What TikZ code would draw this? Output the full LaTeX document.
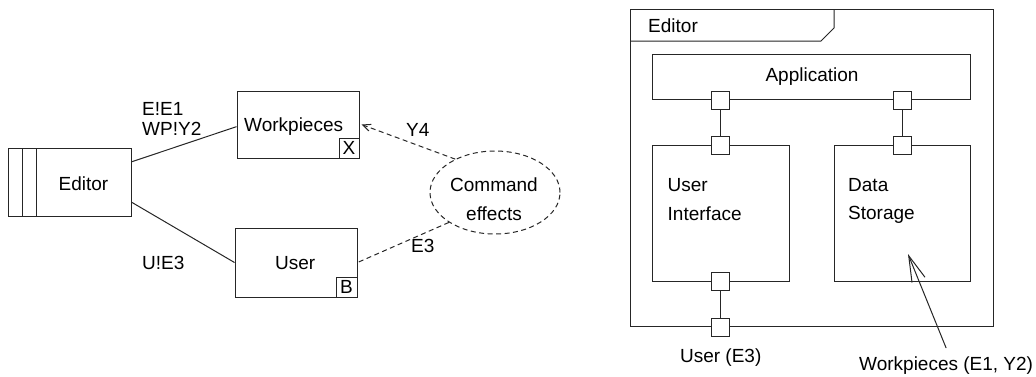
\documentclass[tikz,border=0pt]{standalone}
\usepackage{fontspec}
\setmainfont{Liberation Sans}
\usetikzlibrary{arrows.meta,shapes.geometric}

\tikzset{
  ln/.style={draw=black!85, line width=1pt},
  box/.style={ln, rectangle, inner sep=0pt, fill=white},
  port/.style={box, minimum width=18pt, minimum height=18pt},
  txt/.style={inner sep=0pt},
  dsh/.style={ln, dash pattern=on 5pt off 3.5pt},
}

\begin{document}
\begin{tikzpicture}[x=1pt, y=-1pt]
\useasboundingbox (0,0) rectangle (1036,376);
\fontsize{19}{20}\selectfont

% ---------- problem diagram ----------
\node[box, minimum width=123pt, minimum height=68pt] (ed) at (69.5,182) {};
\draw[ln] (22,148) -- (22,216);
\draw[ln] (36,148) -- (36,216);
\node[txt, anchor=base] (edt) at (83.5,190.5) {Editor};

\node[box, minimum width=122pt, minimum height=67pt] (wp) at (298,124.5) {};
\node[box, minimum width=20pt, minimum height=20pt, anchor=south east] (wpx) at (wp.south east) {X};
\node[txt, anchor=base west] (wpt) at (244,131.5) {Workpieces};

\node[box, minimum width=122pt, minimum height=69pt] (us) at (296,262.5) {};
\node[box, minimum width=21pt, minimum height=20pt, anchor=south east] (usb) at (us.south east) {B};
\node[txt, anchor=base west] (ust) at (275,269) {User};

\node[ln, dash pattern=on 5pt off 3.5pt, ellipse, inner sep=0pt,
      minimum width=130pt, minimum height=83pt] (ce) at (495,192.5) {};
\node[txt, anchor=base] (ce1) at (494,191.7) {Command};
\node[txt, anchor=base] (ce2) at (494,220) {effects};

\draw[ln] (ed.18.8) -- (wp.182.3);
\draw[ln] (ed.-18.8) -- (us.west);
\draw[dsh, -{Straight Barb[length=8pt,width=7pt]}] (ce.140) -- ([xshift=2pt]wp.east);
\draw[dsh] (ce.213) -- (us.east);

\node[txt, anchor=base west] (l1) at (142,115) {E!E1};
\node[txt, anchor=base west] (l2) at (142,135) {WP!Y2};
\node[txt, anchor=base west] (l3) at (142,269.3) {U!E3};
\node[txt, anchor=base west] (l4) at (406,136) {Y4};
\node[txt, anchor=base west] (l5) at (411,252.5) {E3};

% ---------- composite structure of the editor ----------
\node[box, minimum width=363pt, minimum height=317pt] (fr) at (811.5,167.5) {};
\draw[ln] (630,41) -- (821,41) -- (834,28) -- (834,9);
\node[txt, anchor=base west] (frt) at (648,32.3) {Editor};

\node[box, minimum width=318pt, minimum height=45pt] (app) at (811,76.5) {};
\node[txt, anchor=base] (appt) at (812,81.7) {Application};

\node[box, minimum width=137pt, minimum height=136pt] (ui) at (720.5,213) {};
\node[txt, anchor=base west] (ui1) at (667.5,191.7) {User};
\node[txt, anchor=base west] (ui2) at (667.5,220) {Interface};

\node[box, minimum width=136pt, minimum height=136pt] (ds) at (902,213) {};
\node[txt, anchor=base west] (ds1) at (848,191.7) {Data};
\node[txt, anchor=base west] (ds2) at (848,219.5) {Storage};

\node[port] (pa1) at (720.5,100) {};
\node[port] (pa2) at (902.5,100) {};
\node[port] (pu1) at (720.5,145) {};
\node[port] (pd1) at (902.5,145) {};
\node[port] (pu2) at (720.5,281.5) {};
\node[port] (pf)  at (720.5,327) {};

\draw[ln] (pa1.south) -- (pu1.north);
\draw[ln] (pa2.south) -- (pd1.north);
\draw[ln] (pu2.south) -- (pf.north);

\node[txt, anchor=base] (uel) at (720.7,362.7) {User (E3)};
\node[txt, anchor=base west] (wpl) at (859,370) {Workpieces (E1, Y2)};
\coordinate (dsin) at (908,254);
\draw[ln, -{Straight Barb[length=26pt,width=14pt]}] ([yshift=8pt]wpl.north) -- (dsin);

\end{tikzpicture}
\end{document}
